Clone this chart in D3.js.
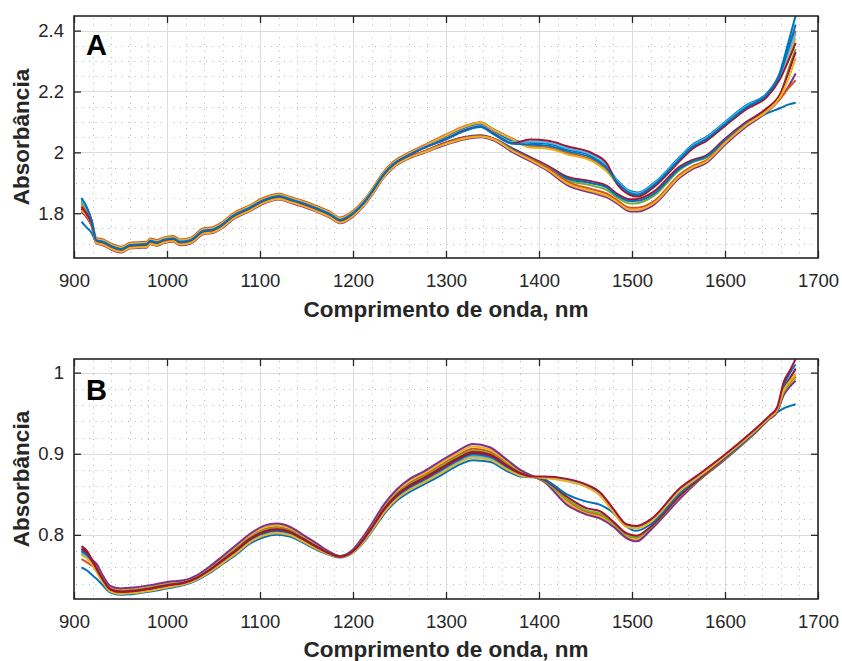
<!DOCTYPE html>
<html><head><meta charset="utf-8">
<script src="https://cdn.jsdelivr.net/npm/d3@7"></script>
<style>
body{margin:0;background:#fff}
svg text{font-family:"Liberation Sans",Arial,Helvetica,sans-serif}
</style>
</head><body>
<svg id="chart" width="842" height="661"></svg>
<script>
// ---------- shared axis data ----------
const xLim = [900, 1700];
const xTicks = [900, 1000, 1100, 1200, 1300, 1400, 1500, 1600, 1700];
const xTickLabels = ["900", "1000", "1100", "1200", "1300", "1400", "1500", "1600", "1700"];

// ---------- panel A ----------
const yLimA = [1.653, 2.448];
const yTicksA = [1.8, 2.0, 2.2, 2.4];
const yTickLabelsA = ["1.8", "2", "2.2", "2.4"];
const wlA = [908, 914, 919, 924, 931, 940, 951, 960, 970, 978, 982, 989, 996, 1007, 1014, 1025, 1039, 1050, 1060, 1071, 1089, 1104, 1121, 1132, 1145, 1160, 1175, 1186, 1200, 1213, 1222, 1233, 1243, 1258, 1276, 1299, 1319, 1337, 1351, 1372, 1390, 1410, 1430, 1458, 1473, 1484, 1498, 1506, 1523, 1552, 1565, 1580, 1600, 1623, 1645, 1659, 1668, 1676];

const aBlue1 = [1.849,1.815,1.775, 1.713,1.708,1.694,1.684,1.697,1.699,1.700,1.711,1.706,1.714,1.719,1.708,1.713,1.744,1.749,1.766,1.793,1.820,1.845,1.858,1.848,1.836,1.819,1.799,1.780,1.802,1.842,1.880,1.930,1.962,1.990,2.017, 2.051,2.079,2.093,2.070,2.038,2.032,2.028,2.010,1.986,1.953,1.909,1.873,1.868,1.898,1.987,2.025,2.051,2.100,2.155, 2.194,2.262,2.360,2.450];
const aOrange1 = [1.840,1.810,1.776, 1.719,1.714,1.700,1.690,1.703,1.705,1.706,1.717,1.712,1.720,1.725,1.714,1.719,1.750,1.755,1.772,1.799,1.826,1.851,1.864,1.854,1.842,1.825,1.805,1.786,1.808,1.848,1.886,1.936,1.968,1.996,2.023, 2.057,2.085,2.099,2.076,2.044,2.020,2.016,1.998,1.974,1.941,1.900,1.864,1.859,1.889,1.978,2.016,2.042,2.091,2.146, 2.188,2.250,2.330,2.400];
const aYellow1 = [1.835,1.805,1.774, 1.716,1.711,1.697,1.687,1.700,1.702,1.703,1.714,1.709,1.717,1.722,1.711,1.716,1.747,1.752,1.769,1.796,1.823,1.848,1.861,1.851,1.839,1.822,1.802,1.783,1.805,1.845,1.883,1.933,1.965,1.993,2.020, 2.055,2.083,2.097,2.074,2.042,2.016,2.012,1.994,1.970,1.937,1.897,1.861,1.856,1.886,1.975,2.013,2.039,2.088,2.143, 2.184,2.245,2.310,2.375];
const aPurple1 = [1.805,1.785,1.758, 1.700,1.695,1.681,1.671,1.684,1.686,1.687,1.698,1.693,1.701,1.706,1.695,1.700,1.731,1.736,1.753,1.780,1.807,1.832,1.845,1.835,1.823,1.806,1.786,1.767,1.789,1.829,1.867,1.917,1.949,1.977, 1.998,2.024,2.042,2.050,2.040,2.000,1.972,1.938,1.893,1.866,1.852,1.832,1.806,1.806,1.827,1.918,1.945,1.965,2.025,2.085,2.132,2.175,2.215,2.259];
const aGreen1 = [1.833,1.805,1.770, 1.706,1.701,1.687,1.677,1.690,1.692,1.693,1.704,1.699,1.707,1.712,1.701,1.706,1.737,1.742,1.759,1.786,1.813,1.838,1.851,1.841,1.829,1.812,1.792,1.773,1.795,1.835,1.873,1.923,1.955,1.983, 2.001,2.029,2.047,2.054,2.044,2.008,1.980,1.948,1.910,1.890,1.876,1.852,1.832,1.833,1.856,1.944,1.967,1.983,2.038,2.094,2.140,2.185,2.270,2.340];
const aLblue1 = [1.845,1.812,1.772, 1.712,1.707,1.693,1.683,1.696,1.698,1.699,1.710,1.705,1.713,1.718,1.707,1.712,1.743,1.748,1.765,1.792,1.819,1.844,1.857,1.847,1.835,1.818,1.798,1.779,1.801,1.841,1.879,1.929,1.961,1.989,2.016, 2.046,2.074,2.088,2.065,2.033,2.036,2.032,2.014,1.990,1.957,1.906,1.870,1.865,1.895,1.984,2.022,2.048,2.097,2.152, 2.190,2.250,2.325,2.390];
const aRed1 = [1.815,1.790,1.760, 1.703,1.698,1.684,1.674,1.687,1.689,1.690,1.701,1.696,1.704,1.709,1.698,1.703,1.734,1.739,1.756,1.783,1.810,1.835,1.848,1.838,1.826,1.809,1.789,1.770,1.792,1.832,1.870,1.920,1.952,1.980, 2.003,2.032,2.050,2.056,2.046,2.012,1.985,1.955,1.920,1.904,1.890,1.864,1.846,1.847,1.870,1.955,1.975,1.990,2.045,2.100,2.145,2.190,2.260,2.330];
const aBlue2 = [1.772,1.752,1.735, 1.705,1.700,1.686,1.676,1.689,1.691,1.692,1.703,1.698,1.706,1.711,1.700,1.705,1.736,1.741,1.758,1.785,1.812,1.837,1.850,1.840,1.828,1.811,1.791,1.772,1.794,1.834,1.872,1.922,1.954,1.982, 2.002,2.030,2.048,2.055,2.045,2.010,1.982,1.951,1.915,1.898,1.884,1.858,1.840,1.841,1.863,1.948,1.970,1.986,2.040,2.095,2.128,2.145,2.157,2.163];
const aOrange2 = [1.825,1.800,1.765, 1.707,1.702,1.688,1.678,1.691,1.693,1.694,1.705,1.700,1.708,1.713,1.702,1.707,1.738,1.743,1.760,1.787,1.814,1.839,1.852,1.842,1.830,1.813,1.793,1.774,1.796,1.836,1.874,1.924,1.956,1.984, 2.002,2.030,2.048,2.053,2.045,2.006,1.980,1.948,1.905,1.878,1.864,1.843,1.818,1.818,1.838,1.929,1.955,1.974,2.033,2.092,2.135,2.175,2.210,2.237];
const aYellow2 = [1.810,1.790,1.762, 1.702,1.697,1.683,1.673,1.686,1.688,1.689,1.700,1.695,1.703,1.708,1.697,1.702,1.733,1.738,1.755,1.782,1.809,1.834,1.847,1.837,1.825,1.808,1.788,1.769,1.791,1.831,1.869,1.919,1.951,1.979, 2.000,2.027,2.045,2.052,2.043,2.004,1.976,1.942,1.898,1.871,1.857,1.837,1.811,1.811,1.832,1.923,1.950,1.970,2.030,2.090,2.135,2.180,2.240,2.310];
const aRed2 = [1.820,1.795,1.766, 1.710,1.705,1.691,1.681,1.694,1.696,1.697,1.708,1.703,1.711,1.716,1.705,1.710,1.741,1.746,1.763,1.790,1.817,1.842,1.855,1.845,1.833,1.816,1.796,1.777,1.799,1.839,1.877,1.927,1.959,1.987,2.014, 2.043,2.071,2.085,2.062,2.030,2.042,2.038,2.020,1.996,1.963,1.896,1.860,1.855,1.885,1.974,2.012,2.038,2.087,2.142, 2.182,2.240,2.300,2.360];
const aBlue3 = [1.850,1.818,1.776, 1.711,1.706,1.692,1.682,1.695,1.697,1.698,1.709,1.704,1.712,1.717,1.706,1.711,1.742,1.747,1.764,1.791,1.818,1.843,1.856,1.846,1.834,1.817,1.797,1.778,1.800,1.840,1.878,1.928,1.960,1.988,2.015, 2.041,2.069,2.083,2.060,2.028,2.026,2.022,2.004,1.980,1.947,1.902,1.866,1.861,1.891,1.980,2.018,2.044,2.093,2.148, 2.190,2.255,2.340,2.420];

// ---------- panel B ----------
const yLimB = [0.7209, 1.0168];
const yTicksB = [0.8, 0.9, 1.0];
const yTickLabelsB = ["0.8", "0.9", "1"];
const wlB = [908, 914, 919, 925, 930, 939, 950, 964, 982, 1000, 1018, 1032, 1046, 1060, 1075, 1089, 1104, 1118, 1132, 1145, 1160, 1175, 1186, 1200, 1211, 1222, 1233, 1247, 1261, 1276, 1294, 1312, 1329, 1347, 1365, 1380, 1392, 1405, 1430, 1451, 1466, 1480, 1494, 1505, 1520, 1552, 1570, 1600, 1630, 1648, 1656, 1663, 1670, 1676];

const bBlue1 = [.760,.756,.751, .745,.739,.729,.726,.727,.730,.734,.738,.744,.753,.764,.776,.789,.797,.800,.798,.791,.782,.775,.772,.778,.790,.807,.825,.842,.853,.862,.873,.885,.892,.890,.879,.872,.871, .871,.868,.861,.850,.830,.812,.810,.818,.857,.872,.898,.927,.946,.951,.956,.959,.961];
const bOrange = [.770,.766,.762, .7594,.749,.7346,.7316,.7326,.7356,.7396,.7422,.7482,.7586,.771,.7844,.7974,.8068,.8098,.8064,.798,.7876,.7778,.7734,.7808,.7956,.814,.8334,.8518,.8642,.8732,.8856,.8976,.906,.9026,.8888,.8776,.8724, .867,.842,.828,.824,.813,.799,.796,.808,.847,.866,.894,.924,.944,.953,.975,.986,.995];
const bYellow = [.779,.776,.768, .761,.7505,.7358,.7328,.7338,.7368,.7408,.7431,.7491,.7598,.7725,.7862,.7992,.8089,.8119,.8082,.7995,.7888,.7784,.7737,.7814,.7968,.8155,.8352,.8539,.8666,.8756,.8883,.9003,.909,.9053,.8909,.8788,.8727, .866,.840,.826,.822,.811,.797,.794,.807,.846,.865,.893,.923,.943,.952,.974,.985,.993];
const bPurple = [.781,.778,.770, .763,.752,.737,.734,.735,.738,.742,.744,.750,.761,.774,.788,.801,.811,.814,.810,.801,.790,.779,.774,.782,.798,.817,.837,.856,.869,.878,.891,.903,.912,.908,.893,.880,.873, .866,.837,.825,.820,.810,.796,.792,.806,.845,.865,.893,.923,.943,.951,.972,.983,.990];
const bGreen = [.776,.773,.766, .7582,.748,.7338,.7308,.7318,.7348,.7388,.7416,.7476,.7578,.77,.7832,.7962,.8054,.8084,.8052,.797,.7868,.7774,.7732,.7804,.7948,.813,.8322,.8504,.8626,.8716,.8838,.8958,.904,.9008,.8874,.8768,.8722, .867,.844,.830,.826,.814,.800,.797,.809,.848,.866,.894,.924,.944,.953,.976,.988,.998];
const bLblue = [.778,.773,.765, .754,.7445,.731,.728,.729,.732,.736,.7395,.7455,.755,.7665,.779,.792,.8005,.8035,.801,.7935,.784,.776,.7725,.779,.792,.8095,.828,.8455,.857,.866,.8775,.8895,.897,.8945,.8825,.874,.8715, .871,.867,.860,.849,.829,.811,.809,.817,.856,.871,.897,.926,.946,.955,.982,.995,1.003];
const bRed = [.786,.780,.770, .757,.747,.733,.730,.731,.734,.738,.741,.747,.757,.769,.782,.795,.804,.807,.804,.796,.786,.777,.773,.780,.794,.812,.831,.849,.861,.870,.882,.894,.902,.899,.886,.876,.872, .868,.847,.833,.829,.816,.802,.799,.810,.849,.867,.895,.925,.945,.954,.980,.993,1.005];
const bBlue2 = [.780,.775,.767, .7552,.7455,.7318,.7288,.7298,.7328,.7368,.7401,.7461,.7558,.7675,.7802,.7932,.8019,.8049,.8022,.7945,.7848,.7764,.7727,.7794,.7928,.8105,.8292,.8469,.8586,.8676,.8793,.8913,.899,.8963,.8839,.8748,.8717, .869,.850,.841,.837,.827,.810,.805,.813,.852,.869,.896,.925,.945,.955,.984,1.0,1.010];
const bYellow2 = [.775,.771,.764, .7528,.7435,.7302,.7272,.7282,.7312,.7352,.7389,.7449,.7542,.7655,.7778,.7908,.7991,.8021,.7998,.7925,.7832,.7756,.7723,.7786,.7912,.8085,.8268,.8441,.8554,.8644,.8757,.8877,.895,.8927,.8811,.8732,.8713, .870,.866,.859,.848,.828,.810,.808,.816,.855,.870,.897,.926,.945,.954,.978,.990,.998];
const bRed2 = [.783,.778,.769, .7564,.7465,.7326,.7296,.7306,.7336,.7376,.7407,.7467,.7566,.7685,.7814,.7944,.8033,.8063,.8034,.7955,.7856,.7768,.7729,.7798,.7936,.8115,.8304,.8483,.8602,.8692,.8811,.8931,.901,.8981,.8853,.8756,.8719, .872,.869,.862,.852,.832,.813,.811,.819,.858,.873,.899,.928,.947,.957,.988,1.003,1.017];

// MATLAB default colour order
const C = {blue:"#0072BD", orange:"#D95319", yellow:"#EDB120", purple:"#7E2F8E", green:"#77AC30", lblue:"#4DBEEE", red:"#A2142F"};

const seriesA = [
  [aBlue1, C.blue], [aOrange1, C.orange], [aYellow1, C.yellow], [aPurple1, C.purple],
  [aGreen1, C.green], [aLblue1, C.lblue], [aRed1, C.red], [aBlue2, C.blue],
  [aOrange2, C.orange], [aYellow2, C.yellow], [aRed2, C.red], [aBlue3, C.blue]
];
const seriesB = [
  [bBlue1, C.blue], [bOrange, C.orange], [bYellow, C.yellow], [bPurple, C.purple],
  [bGreen, C.green], [bLblue, C.lblue], [bRed, C.red], [bBlue2, C.blue],
  [bYellow2, C.yellow], [bRed2, C.red]
];

const svg = d3.select("#chart");
const AX = "#262626";
const W = 744;

function drawPanel(cfg) {
  const g = svg.append("g").attr("transform", `translate(${cfg.left},${cfg.top})`);
  const h = cfg.h;
  const x = d3.scaleLinear().domain(xLim).range([0, W]);
  const y = d3.scaleLinear().domain(cfg.yLim).range([h, 0]);

  // minor grid (dotted)
  const minorX = d3.range(xLim[0], xLim[1] + 1, 20).filter(v => v % 100 !== 0);
  const k0 = Math.ceil(cfg.yLim[0] / cfg.minorStep - 1e-6), k1 = Math.floor(cfg.yLim[1] / cfg.minorStep + 1e-6);
  const minorY = d3.range(k0, k1 + 1).map(k => +(k * cfg.minorStep).toFixed(5))
    .filter(v => !cfg.ticks.some(t => Math.abs(t - v) < 1e-6));
  const gm = g.append("g").attr("stroke", "#a4a4a4").attr("stroke-width", 1)
    .attr("stroke-dasharray", "1,5.5").attr("opacity", 0.8);
  gm.selectAll("line.mx").data(minorX).join("line")
    .attr("x1", d => Math.round(x(d)) + 0.5).attr("x2", d => Math.round(x(d)) + 0.5)
    .attr("y1", 2).attr("y2", h);
  gm.selectAll("line.my").data(minorY).join("line")
    .attr("y1", d => Math.round(y(d)) + 0.5).attr("y2", d => Math.round(y(d)) + 0.5)
    .attr("x1", 2).attr("x2", W);

  // major grid
  const gM = g.append("g").attr("stroke", "#dcdcdc").attr("stroke-width", 1);
  gM.selectAll("line.gx").data(xTicks).join("line")
    .attr("x1", d => Math.round(x(d)) + 0.5).attr("x2", d => Math.round(x(d)) + 0.5)
    .attr("y1", 0).attr("y2", h);
  gM.selectAll("line.gy").data(cfg.ticks).join("line")
    .attr("y1", d => Math.round(y(d)) + 0.5).attr("y2", d => Math.round(y(d)) + 0.5)
    .attr("x1", 0).attr("x2", W);

  // data lines
  const clipId = "clip" + cfg.id;
  g.append("clipPath").attr("id", clipId).append("rect")
    .attr("x", 0).attr("y", 0).attr("width", W).attr("height", h);
  const line = d3.line().x((d, i) => x(cfg.wl[i])).y(d => y(d)).curve(d3.curveMonotoneX);
  g.append("g").attr("clip-path", `url(#${clipId})`)
    .selectAll("path").data(cfg.series).join("path")
    .attr("d", d => line(d[0])).attr("fill", "none")
    .attr("stroke", d => d[1]).attr("stroke-width", 2)
    .attr("stroke-linejoin", "round");

  // axes with inward ticks on all four sides
  const styleAxis = sel => {
    sel.select(".domain").remove();
    sel.selectAll(".tick line").attr("stroke", AX).attr("stroke-width", 1.3);
    sel.selectAll(".tick text").attr("fill", AX).style("font-size", "18.5px")
      .style("font-family", '"Liberation Sans", Arial, Helvetica, sans-serif');
  };
  g.append("g").attr("transform", `translate(0,${h})`)
    .call(d3.axisBottom(x).tickValues(xTicks).tickSizeInner(-7).tickSizeOuter(0).tickPadding(16)
      .tickFormat((d, i) => xTickLabels[i])).call(styleAxis);
  g.append("g")
    .call(d3.axisTop(x).tickValues(xTicks).tickSizeInner(-7).tickSizeOuter(0).tickFormat(""))
    .call(styleAxis);
  g.append("g")
    .call(d3.axisLeft(y).tickValues(cfg.ticks).tickSizeInner(-7).tickSizeOuter(0).tickPadding(10)
      .tickFormat((d, i) => cfg.tickLabels[i])).call(styleAxis);
  g.append("g").attr("transform", `translate(${W},0)`)
    .call(d3.axisRight(y).tickValues(cfg.ticks).tickSizeInner(-7).tickSizeOuter(0).tickFormat(""))
    .call(styleAxis);

  // box
  g.append("rect").attr("x", 0).attr("y", 0).attr("width", W).attr("height", h)
    .attr("fill", "none").attr("stroke", AX).attr("stroke-width", 1.6);

  // panel letter
  g.append("text").attr("x", 12).attr("y", cfg.letterY).text(cfg.letter)
    .style("font-size", "29px").style("font-weight", "bold").attr("fill", "#000");

  // axis titles
  svg.append("text").attr("x", cfg.left + W / 2).attr("y", cfg.xLabelY)
    .attr("text-anchor", "middle").style("font-size", "22.5px").style("font-weight", "bold")
    .attr("fill", AX).text("Comprimento de onda, nm");
  svg.append("text")
    .attr("transform", `translate(28.5,${cfg.top + h / 2}) rotate(-90)`)
    .attr("text-anchor", "middle").style("font-size", "22.5px").style("font-weight", "bold")
    .attr("fill", AX).text("Absorbância");
}

drawPanel({id: "A", left: 74, top: 16, h: 242, yLim: yLimA, ticks: yTicksA, tickLabels: yTickLabelsA,
  minorStep: 0.05, wl: wlA, series: seriesA, letter: "A", letterY: 39, xLabelY: 317});
drawPanel({id: "B", left: 74, top: 359, h: 240, yLim: yLimB, ticks: yTicksB, tickLabels: yTickLabelsB,
  minorStep: 0.02, wl: wlB, series: seriesB, letter: "B", letterY: 41, xLabelY: 657});
</script>
</body></html>
